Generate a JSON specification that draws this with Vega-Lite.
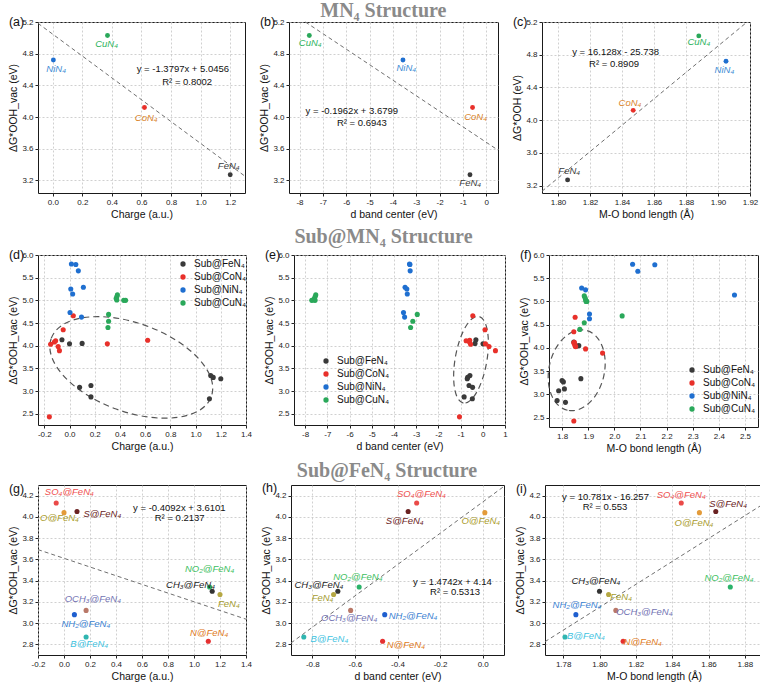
{
"$schema": "https://vega.github.io/schema/vega-lite/v6.json",
"padding": {"left": 8, "top": 1, "right": 2, "bottom": 0},
"background": "white",
"config": {
 "font": "Liberation Sans",
 "view": {"stroke": "#1a1a1a", "strokeWidth": 1},
 "axis": {"labelFontSize": 8, "labelColor": "#222", "titleFontSize": 10.5, "titleFontWeight": "normal", "titleColor": "#111", "tickSize": 3, "tickColor": "#222", "domain": false, "grid": true, "gridColor": "#c4c4c4", "gridDash": [2, 2], "gridWidth": 0.8, "labelPadding": 2, "titlePadding": 3, "labelFlush": false, "labelOverlap": false, "tickCount": 50},
 "legend": {"labelFontSize": 10, "labelColor": "#111", "symbolSize": 28, "symbolType": "circle", "rowPadding": 3, "labelOffset": 6, "padding": 0, "symbolStrokeWidth": 0, "title": null},
 "locale": {"number": {"decimal": ".", "thousands": ",", "grouping": [3], "currency": ["$", ""], "minus": "-"}}
},
"datasets": {
 "mn4": [
  {"m": "FeN₄", "charge": 1.2, "dband": -0.7, "mo": 1.806, "g": 3.27},
  {"m": "CoN₄", "charge": 0.62, "dband": -0.59, "mo": 1.847, "g": 4.12},
  {"m": "NiN₄", "charge": 0.004, "dband": -3.57, "mo": 1.905, "g": 4.72},
  {"m": "CuN₄", "charge": 0.37, "dband": -7.58, "mo": 1.888, "g": 5.03}
 ],
 "sub": [
  {"s": "Sub@FeN₄", "charge": -0.06, "dband": -0.31, "mo": 1.845, "g": 4.13},
  {"s": "Sub@FeN₄", "charge": 0.1, "dband": -0.35, "mo": 1.864, "g": 4.05},
  {"s": "Sub@FeN₄", "charge": 0.0, "dband": 0.01, "mo": 1.855, "g": 4.04},
  {"s": "Sub@FeN₄", "charge": 1.12, "dband": -0.58, "mo": 1.872, "g": 3.34},
  {"s": "Sub@FeN₄", "charge": 1.14, "dband": -0.68, "mo": 1.8, "g": 3.3},
  {"s": "Sub@FeN₄", "charge": 1.2, "dband": -0.7, "mo": 1.805, "g": 3.27},
  {"s": "Sub@FeN₄", "charge": 0.17, "dband": -0.62, "mo": 1.809, "g": 3.12},
  {"s": "Sub@FeN₄", "charge": 0.08, "dband": -0.46, "mo": 1.787, "g": 3.08},
  {"s": "Sub@FeN₄", "charge": 0.17, "dband": -0.84, "mo": 1.781, "g": 2.87},
  {"s": "Sub@FeN₄", "charge": 1.11, "dband": -0.47, "mo": 1.813, "g": 2.83},
  {"s": "Sub@CoN₄", "charge": 0.03, "dband": -0.45, "mo": 1.85, "g": 4.66},
  {"s": "Sub@CoN₄", "charge": -0.05, "dband": 0.1, "mo": 1.845, "g": 4.35},
  {"s": "Sub@CoN₄", "charge": 0.62, "dband": -0.59, "mo": 1.847, "g": 4.12},
  {"s": "Sub@CoN₄", "charge": -0.11, "dband": -0.75, "mo": 1.845, "g": 4.11},
  {"s": "Sub@CoN₄", "charge": -0.12, "dband": -0.6, "mo": 1.848, "g": 4.08},
  {"s": "Sub@CoN₄", "charge": 0.3, "dband": 0.12, "mo": 1.85, "g": 4.04},
  {"s": "Sub@CoN₄", "charge": -0.15, "dband": -0.55, "mo": 1.852, "g": 4.03},
  {"s": "Sub@CoN₄", "charge": -0.09, "dband": 0.28, "mo": 1.89, "g": 3.98},
  {"s": "Sub@CoN₄", "charge": -0.08, "dband": 0.57, "mo": 1.955, "g": 3.89},
  {"s": "Sub@CoN₄", "charge": -0.16, "dband": -1.05, "mo": 1.845, "g": 2.43},
  {"s": "Sub@NiN₄", "charge": 0.015, "dband": -3.3, "mo": 2.07, "g": 5.8},
  {"s": "Sub@NiN₄", "charge": 0.05, "dband": -3.28, "mo": 2.155, "g": 5.79},
  {"s": "Sub@NiN₄", "charge": 0.07, "dband": -3.27, "mo": 2.09, "g": 5.65},
  {"s": "Sub@NiN₄", "charge": 0.11, "dband": -3.5, "mo": 1.875, "g": 5.29},
  {"s": "Sub@NiN₄", "charge": 0.01, "dband": -3.42, "mo": 1.89, "g": 5.25},
  {"s": "Sub@NiN₄", "charge": 0.025, "dband": -3.4, "mo": 2.46, "g": 5.14},
  {"s": "Sub@NiN₄", "charge": 0.004, "dband": -3.57, "mo": 1.905, "g": 4.73},
  {"s": "Sub@NiN₄", "charge": 0.095, "dband": -3.52, "mo": 1.905, "g": 4.63},
  {"s": "Sub@CuN₄", "charge": 0.38, "dband": -7.52, "mo": 1.885, "g": 5.12},
  {"s": "Sub@CuN₄", "charge": 0.375, "dband": -7.55, "mo": 1.888, "g": 5.08},
  {"s": "Sub@CuN₄", "charge": 0.37, "dband": -7.58, "mo": 1.89, "g": 5.04},
  {"s": "Sub@CuN₄", "charge": 0.375, "dband": -7.62, "mo": 1.893, "g": 5.01},
  {"s": "Sub@CuN₄", "charge": 0.43, "dband": -7.7, "mo": 1.895, "g": 5.0},
  {"s": "Sub@CuN₄", "charge": 0.445, "dband": -7.55, "mo": 1.892, "g": 5.0},
  {"s": "Sub@CuN₄", "charge": 0.31, "dband": -2.95, "mo": 2.03, "g": 4.69},
  {"s": "Sub@CuN₄", "charge": 0.31, "dband": -3.15, "mo": 1.885, "g": 4.54},
  {"s": "Sub@CuN₄", "charge": 0.305, "dband": -3.25, "mo": 1.868, "g": 4.4}
 ],
 "fe": [
  {"k": "SO4", "charge": -0.06, "dband": -0.31, "mo": 1.845, "g": 4.13},
  {"k": "S", "charge": 0.1, "dband": -0.35, "mo": 1.864, "g": 4.05},
  {"k": "O", "charge": 0.0, "dband": 0.01, "mo": 1.855, "g": 4.04},
  {"k": "NO2", "charge": 1.12, "dband": -0.58, "mo": 1.872, "g": 3.34},
  {"k": "CH3", "charge": 1.14, "dband": -0.68, "mo": 1.8, "g": 3.3},
  {"k": "Fe", "charge": 1.2, "dband": -0.7, "mo": 1.805, "g": 3.27},
  {"k": "OCH3", "charge": 0.17, "dband": -0.62, "mo": 1.809, "g": 3.12},
  {"k": "NH2", "charge": 0.08, "dband": -0.46, "mo": 1.787, "g": 3.08},
  {"k": "B", "charge": 0.17, "dband": -0.84, "mo": 1.781, "g": 2.87},
  {"k": "N", "charge": 1.11, "dband": -0.47, "mo": 1.813, "g": 2.83}
 ],
 "fit": [
  {"p": "a", "x": -0.1, "y": 5.1836}, {"p": "a", "x": 1.3, "y": 3.252},
  {"p": "b", "x": -7.748, "y": 5.2}, {"p": "b", "x": 0.5, "y": 3.5818},
  {"p": "c", "x": 1.79, "y": 3.1311}, {"p": "c", "x": 1.9182, "y": 5.2},
  {"p": "g", "x": -0.2, "y": 3.6919}, {"p": "g", "x": 1.4, "y": 3.0372},
  {"p": "h", "x": -0.9, "y": 2.8132}, {"p": "h", "x": 0.1, "y": 4.2874},
  {"p": "i", "x": 1.77, "y": 2.8254}, {"p": "i", "x": 1.89, "y": 4.1191}
 ],
 "eq": [
  {"p": "a", "x": 0.88, "y": 4.61, "t": "y = -1.3797x + 5.0456"}, {"p": "a", "x": 0.909, "y": 4.44, "t": "R² = 0.8002"},
  {"p": "b", "x": -5.76, "y": 4.075, "t": "y = -0.1962x + 3.6799"}, {"p": "b", "x": -5.33, "y": 3.93, "t": "R² = 0.6943"},
  {"p": "c", "x": 1.836, "y": 4.837, "t": "y = 16.128x - 25.738"}, {"p": "c", "x": 1.835, "y": 4.69, "t": "R² = 0.8909"},
  {"p": "g", "x": 0.887, "y": 4.08, "t": "y = -0.4092x + 3.6101"}, {"p": "g", "x": 0.89, "y": 3.985, "t": "R² = 0.2137"},
  {"p": "h", "x": -0.142, "y": 3.39, "t": "y = 1.4742x + 4.14"}, {"p": "h", "x": -0.13, "y": 3.29, "t": "R² = 0.5313"},
  {"p": "i", "x": 1.8033, "y": 4.19, "t": "y = 10.781x - 16.257"}, {"p": "i", "x": 1.803, "y": 4.09, "t": "R² = 0.553"}
 ],
 "lab": [
  {"p": "a", "k": "CuN4", "t": "CuN₄", "x": 0.364, "y": 4.92},
  {"p": "a", "k": "NiN4", "t": "NiN₄", "x": 0.023, "y": 4.61},
  {"p": "a", "k": "CoN4", "t": "CoN₄", "x": 0.632, "y": 3.99},
  {"p": "a", "k": "FeN4", "t": "FeN₄", "x": 1.19, "y": 3.38},
  {"p": "b", "k": "CuN4", "t": "CuN₄", "x": -7.54, "y": 4.93},
  {"p": "b", "k": "NiN4", "t": "NiN₄", "x": -3.43, "y": 4.62},
  {"p": "b", "k": "CoN4", "t": "CoN₄", "x": -0.46, "y": 4.0},
  {"p": "b", "k": "FeN4", "t": "FeN₄", "x": -0.69, "y": 3.17},
  {"p": "c", "k": "CuN4", "t": "CuN₄", "x": 1.888, "y": 4.95},
  {"p": "c", "k": "NiN4", "t": "NiN₄", "x": 1.904, "y": 4.61},
  {"p": "c", "k": "CoN4", "t": "CoN₄", "x": 1.845, "y": 4.21},
  {"p": "c", "k": "FeN4", "t": "FeN₄", "x": 1.807, "y": 3.38},
  {"p": "g", "k": "SO4", "t": "SO₄@FeN₄", "x": 0.041, "y": 4.23},
  {"p": "g", "k": "O", "t": "O@FeN₄", "x": -0.035, "y": 3.99},
  {"p": "g", "k": "S", "t": "S@FeN₄", "x": 0.295, "y": 4.03},
  {"p": "g", "k": "NO2", "t": "NO₂@FeN₄", "x": 1.12, "y": 3.51},
  {"p": "g", "k": "CH3", "t": "CH₃@FeN₄", "x": 0.973, "y": 3.356},
  {"p": "g", "k": "Fe", "t": "FeN₄", "x": 1.268, "y": 3.18},
  {"p": "g", "k": "OCH3", "t": "OCH₃@FeN₄", "x": 0.222, "y": 3.23},
  {"p": "g", "k": "NH2", "t": "NH₂@FeN₄", "x": 0.168, "y": 2.99},
  {"p": "g", "k": "B", "t": "B@FeN₄", "x": 0.194, "y": 2.8},
  {"p": "g", "k": "N", "t": "N@FeN₄", "x": 1.116, "y": 2.91},
  {"p": "h", "k": "SO4", "t": "SO₄@FeN₄", "x": -0.2875, "y": 4.22},
  {"p": "h", "k": "S", "t": "S@FeN₄", "x": -0.366, "y": 3.96},
  {"p": "h", "k": "O", "t": "O@FeN₄", "x": -0.009, "y": 3.96},
  {"p": "h", "k": "CH3", "t": "CH₃@FeN₄", "x": -0.769, "y": 3.36},
  {"p": "h", "k": "Fe", "t": "FeN₄", "x": -0.752, "y": 3.236},
  {"p": "h", "k": "NO2", "t": "NO₂@FeN₄", "x": -0.586, "y": 3.43},
  {"p": "h", "k": "OCH3", "t": "OCH₃@FeN₄", "x": -0.627, "y": 3.047},
  {"p": "h", "k": "NH2", "t": "NH₂@FeN₄", "x": -0.327, "y": 3.07},
  {"p": "h", "k": "B", "t": "B@FeN₄", "x": -0.72, "y": 2.85},
  {"p": "h", "k": "N", "t": "N@FeN₄", "x": -0.361, "y": 2.79},
  {"p": "i", "k": "SO4", "t": "SO₄@FeN₄", "x": 1.845, "y": 4.21},
  {"p": "i", "k": "S", "t": "S@FeN₄", "x": 1.8708, "y": 4.125},
  {"p": "i", "k": "O", "t": "O@FeN₄", "x": 1.852, "y": 3.943},
  {"p": "i", "k": "NO2", "t": "NO₂@FeN₄", "x": 1.8713, "y": 3.426},
  {"p": "i", "k": "CH3", "t": "CH₃@FeN₄", "x": 1.798, "y": 3.394},
  {"p": "i", "k": "Fe", "t": "FeN₄", "x": 1.8119, "y": 3.247},
  {"p": "i", "k": "OCH3", "t": "OCH₃@FeN₄", "x": 1.8247, "y": 3.106},
  {"p": "i", "k": "NH2", "t": "NH₂@FeN₄", "x": 1.7876, "y": 3.175},
  {"p": "i", "k": "B", "t": "B@FeN₄", "x": 1.7925, "y": 2.883},
  {"p": "i", "k": "N", "t": "N@FeN₄", "x": 1.8238, "y": 2.824}
 ],
 "ell": [
  {"p": "d", "x": 0.49, "y": 3.52},
  {"p": "e", "x": -0.53, "y": 3.69},
  {"p": "f", "x": 1.856, "y": 3.52}
 ]
},
"resolve": {"scale": {"color": "independent"}, "legend": {"color": "independent"}},
"spacing": 7,
"vconcat": [
 {
  "title": {"text": "MN₄ Structure", "anchor": "middle", "fontSize": 20, "font": "Liberation Serif", "fontWeight": "bold", "color": "#8a8a8a", "offset": -6},
  "spacing": 11,
  "resolve": {"scale": {"color": "independent"}, "legend": {"color": "independent"}},
  "hconcat": [
   {
    "width": 207, "height": 171,
    "title": {"text": "(a)", "anchor": "start", "frame": "bounds", "offset": -10, "fontSize": 12.5, "fontWeight": "normal", "color": "#111", "font": "Liberation Sans"},
    "resolve": {"scale": {"color": "independent"}},
    "layer": [
     {"data": {"name": "fit"}, "transform": [{"filter": "datum.p == 'a'"}],
      "mark": {"type": "line", "strokeDash": [4, 3], "color": "#707070", "strokeWidth": 1},
      "encoding": {
       "x": {"field": "x", "type": "quantitative", "title": "Charge (a.u.)", "scale": {"domain": [-0.1, 1.3], "nice": false, "zero": false}, "axis": {"values": [0, 0.2, 0.4, 0.6, 0.8, 1, 1.2], "format": ".1f", "tickCount": 50}},
       "y": {"field": "y", "type": "quantitative", "title": "ΔG*OOH_vac (eV)", "scale": {"domain": [3.04, 5.2], "nice": false, "zero": false}, "axis": {"values": [3.2, 3.6, 4, 4.4, 4.8, 5.2], "format": ".1f", "tickCount": 50}}}},
     {"data": {"name": "mn4"},
      "mark": {"type": "circle", "size": 24, "opacity": 1},
      "encoding": {
       "x": {"field": "charge", "type": "quantitative", "title": "Charge (a.u.)", "scale": {"domain": [-0.1, 1.3], "nice": false, "zero": false}},
       "y": {"field": "g", "type": "quantitative", "title": "ΔG*OOH_vac (eV)", "scale": {"domain": [3.04, 5.2], "nice": false, "zero": false}},
       "color": {"field": "m", "type": "nominal", "scale": {"domain": ["FeN₄", "CoN₄", "NiN₄", "CuN₄"], "range": ["#3a3a3a", "#e8302a", "#1f6fd0", "#2aa85a"]}, "legend": null}}},
     {"data": {"name": "lab"}, "transform": [{"filter": "datum.p == 'a'"}],
      "mark": {"type": "text", "fontSize": 9.5, "fontStyle": "italic", "baseline": "middle"},
      "encoding": {
       "x": {"field": "x", "type": "quantitative", "title": "Charge (a.u.)", "scale": {"domain": [-0.1, 1.3], "nice": false, "zero": false}},
       "y": {"field": "y", "type": "quantitative", "title": "ΔG*OOH_vac (eV)", "scale": {"domain": [3.04, 5.2], "nice": false, "zero": false}},
       "text": {"field": "t"},
       "color": {"field": "k", "type": "nominal", "scale": {"domain": ["FeN4", "CoN4", "NiN4", "CuN4"], "range": ["#3a3a3a", "#d9832a", "#3d8bd4", "#2db35d"]}, "legend": null}}},
     {"data": {"name": "eq"}, "transform": [{"filter": "datum.p == 'a'"}],
      "mark": {"type": "text", "fontSize": 9.5, "color": "#111", "baseline": "middle"},
      "encoding": {
       "x": {"field": "x", "type": "quantitative", "title": "Charge (a.u.)", "scale": {"domain": [-0.1, 1.3], "nice": false, "zero": false}},
       "y": {"field": "y", "type": "quantitative", "title": "ΔG*OOH_vac (eV)", "scale": {"domain": [3.04, 5.2], "nice": false, "zero": false}},
       "text": {"field": "t"}}}
    ]
   },
   {
    "width": 209, "height": 171,
    "title": {"text": "(b)", "anchor": "start", "frame": "bounds", "offset": -10, "fontSize": 12.5, "fontWeight": "normal", "color": "#111", "font": "Liberation Sans"},
    "resolve": {"scale": {"color": "independent"}},
    "layer": [
     {"data": {"name": "fit"}, "transform": [{"filter": "datum.p == 'b'"}],
      "mark": {"type": "line", "strokeDash": [4, 3], "color": "#707070", "strokeWidth": 1},
      "encoding": {
       "x": {"field": "x", "type": "quantitative", "title": "d band center (eV)", "scale": {"domain": [-8.45, 0.5], "nice": false, "zero": false}, "axis": {"values": [-8, -7, -6, -5, -4, -3, -2, -1, 0], "format": "d", "tickCount": 50}},
       "y": {"field": "y", "type": "quantitative", "title": "ΔG*OOH_vac (eV)", "scale": {"domain": [3.04, 5.2], "nice": false, "zero": false}, "axis": {"values": [3.2, 3.6, 4, 4.4, 4.8, 5.2], "format": ".1f", "tickCount": 50}}}},
     {"data": {"name": "mn4"},
      "mark": {"type": "circle", "size": 24, "opacity": 1},
      "encoding": {
       "x": {"field": "dband", "type": "quantitative", "title": "d band center (eV)", "scale": {"domain": [-8.45, 0.5], "nice": false, "zero": false}},
       "y": {"field": "g", "type": "quantitative", "title": "ΔG*OOH_vac (eV)", "scale": {"domain": [3.04, 5.2], "nice": false, "zero": false}},
       "color": {"field": "m", "type": "nominal", "scale": {"domain": ["FeN₄", "CoN₄", "NiN₄", "CuN₄"], "range": ["#3a3a3a", "#e8302a", "#1f6fd0", "#2aa85a"]}, "legend": null}}},
     {"data": {"name": "lab"}, "transform": [{"filter": "datum.p == 'b'"}],
      "mark": {"type": "text", "fontSize": 9.5, "fontStyle": "italic", "baseline": "middle"},
      "encoding": {
       "x": {"field": "x", "type": "quantitative", "title": "d band center (eV)", "scale": {"domain": [-8.45, 0.5], "nice": false, "zero": false}},
       "y": {"field": "y", "type": "quantitative", "title": "ΔG*OOH_vac (eV)", "scale": {"domain": [3.04, 5.2], "nice": false, "zero": false}},
       "text": {"field": "t"},
       "color": {"field": "k", "type": "nominal", "scale": {"domain": ["FeN4", "CoN4", "NiN4", "CuN4"], "range": ["#3a3a3a", "#d9832a", "#3d8bd4", "#2db35d"]}, "legend": null}}},
     {"data": {"name": "eq"}, "transform": [{"filter": "datum.p == 'b'"}],
      "mark": {"type": "text", "fontSize": 9.5, "color": "#111", "baseline": "middle"},
      "encoding": {
       "x": {"field": "x", "type": "quantitative", "title": "d band center (eV)", "scale": {"domain": [-8.45, 0.5], "nice": false, "zero": false}},
       "y": {"field": "y", "type": "quantitative", "title": "ΔG*OOH_vac (eV)", "scale": {"domain": [3.04, 5.2], "nice": false, "zero": false}},
       "text": {"field": "t"}}}
    ]
   },
   {
    "width": 208, "height": 171,
    "title": {"text": "(c)", "anchor": "start", "frame": "bounds", "offset": -10, "fontSize": 12.5, "fontWeight": "normal", "color": "#111", "font": "Liberation Sans"},
    "resolve": {"scale": {"color": "independent"}},
    "layer": [
     {"data": {"name": "fit"}, "transform": [{"filter": "datum.p == 'c'"}],
      "mark": {"type": "line", "strokeDash": [4, 3], "color": "#707070", "strokeWidth": 1},
      "encoding": {
       "x": {"field": "x", "type": "quantitative", "title": "M-O bond length (Å)", "scale": {"domain": [1.79, 1.92], "nice": false, "zero": false}, "axis": {"values": [1.8, 1.82, 1.84, 1.86, 1.88, 1.9, 1.92], "format": ".2f", "tickCount": 50}},
       "y": {"field": "y", "type": "quantitative", "title": "ΔG*OOH (eV)", "scale": {"domain": [3.11, 5.2], "nice": false, "zero": false}, "axis": {"values": [3.2, 3.6, 4, 4.4, 4.8, 5.2], "format": ".1f", "tickCount": 50}}}},
     {"data": {"name": "mn4"},
      "mark": {"type": "circle", "size": 24, "opacity": 1},
      "encoding": {
       "x": {"field": "mo", "type": "quantitative", "title": "M-O bond length (Å)", "scale": {"domain": [1.79, 1.92], "nice": false, "zero": false}},
       "y": {"field": "g", "type": "quantitative", "title": "ΔG*OOH (eV)", "scale": {"domain": [3.11, 5.2], "nice": false, "zero": false}},
       "color": {"field": "m", "type": "nominal", "scale": {"domain": ["FeN₄", "CoN₄", "NiN₄", "CuN₄"], "range": ["#3a3a3a", "#e8302a", "#1f6fd0", "#2aa85a"]}, "legend": null}}},
     {"data": {"name": "lab"}, "transform": [{"filter": "datum.p == 'c'"}],
      "mark": {"type": "text", "fontSize": 9.5, "fontStyle": "italic", "baseline": "middle"},
      "encoding": {
       "x": {"field": "x", "type": "quantitative", "title": "M-O bond length (Å)", "scale": {"domain": [1.79, 1.92], "nice": false, "zero": false}},
       "y": {"field": "y", "type": "quantitative", "title": "ΔG*OOH (eV)", "scale": {"domain": [3.11, 5.2], "nice": false, "zero": false}},
       "text": {"field": "t"},
       "color": {"field": "k", "type": "nominal", "scale": {"domain": ["FeN4", "CoN4", "NiN4", "CuN4"], "range": ["#3a3a3a", "#d9832a", "#3d8bd4", "#2db35d"]}, "legend": null}}},
     {"data": {"name": "eq"}, "transform": [{"filter": "datum.p == 'c'"}],
      "mark": {"type": "text", "fontSize": 9.5, "color": "#111", "baseline": "middle"},
      "encoding": {
       "x": {"field": "x", "type": "quantitative", "title": "M-O bond length (Å)", "scale": {"domain": [1.79, 1.92], "nice": false, "zero": false}},
       "y": {"field": "y", "type": "quantitative", "title": "ΔG*OOH (eV)", "scale": {"domain": [3.11, 5.2], "nice": false, "zero": false}},
       "text": {"field": "t"}}}
    ]
   }
  ]
 },
 {
  "title": {"text": "Sub@MN₄ Structure", "anchor": "middle", "fontSize": 20, "font": "Liberation Serif", "fontWeight": "bold", "color": "#8a8a8a", "offset": 1},
  "spacing": 11,
  "resolve": {"scale": {"color": "independent"}, "legend": {"color": "independent"}},
  "hconcat": [
   {
    "width": 208, "height": 170,
    "title": {"text": "(d)", "anchor": "start", "frame": "bounds", "offset": -10, "fontSize": 12.5, "fontWeight": "normal", "color": "#111", "font": "Liberation Sans"},
    "layer": [
     {"data": {"name": "ell"}, "transform": [{"filter": "datum.p == 'd'"}],
      "mark": {"type": "point", "shape": "M -1 0 A 1 0.52 0 1 1 1 0 A 1 0.52 0 1 1 -1 0 Z", "size": 29000, "angle": 20, "filled": false, "stroke": "#555", "strokeWidth": 1.2, "strokeDash": [6, 4], "opacity": 1},
      "encoding": {
       "x": {"field": "x", "type": "quantitative", "title": "Charge (a.u.)", "scale": {"domain": [-0.25, 1.4], "nice": false, "zero": false}, "axis": {"values": [-0.2, 0, 0.2, 0.4, 0.6, 0.8, 1, 1.2, 1.4], "format": ".1f", "tickCount": 50}},
       "y": {"field": "y", "type": "quantitative", "title": "ΔG*OOH_vac (eV)", "scale": {"domain": [2.25, 6], "nice": false, "zero": false}, "axis": {"values": [2.5, 3, 3.5, 4, 4.5, 5, 5.5, 6], "format": ".1f", "tickCount": 50}}}},
     {"data": {"name": "sub"},
      "mark": {"type": "circle", "size": 26, "opacity": 1},
      "encoding": {
       "x": {"field": "charge", "type": "quantitative", "title": "Charge (a.u.)", "scale": {"domain": [-0.25, 1.4], "nice": false, "zero": false}},
       "y": {"field": "g", "type": "quantitative", "title": "ΔG*OOH_vac (eV)", "scale": {"domain": [2.25, 6], "nice": false, "zero": false}},
       "color": {"field": "s", "type": "nominal", "scale": {"domain": ["Sub@FeN₄", "Sub@CoN₄", "Sub@NiN₄", "Sub@CuN₄"], "range": ["#3a3a3a", "#e8302a", "#1f6fd0", "#2aa85a"]}, "legend": {"orient": "none", "legendX": 140, "legendY": 4}}}}
    ]
   },
   {
    "width": 211, "height": 170,
    "title": {"text": "(e)", "anchor": "start", "frame": "bounds", "offset": -10, "fontSize": 12.5, "fontWeight": "normal", "color": "#111", "font": "Liberation Sans"},
    "layer": [
     {"data": {"name": "ell"}, "transform": [{"filter": "datum.p == 'e'"}],
      "mark": {"type": "point", "shape": "M -1 0 A 1 0.36 0 1 1 1 0 A 1 0.36 0 1 1 -1 0 Z", "size": 7744, "angle": -80, "filled": false, "stroke": "#555", "strokeWidth": 1.2, "strokeDash": [6, 4], "opacity": 1},
      "encoding": {
       "x": {"field": "x", "type": "quantitative", "title": "d band center (eV)", "scale": {"domain": [-8.5, 1], "nice": false, "zero": false}, "axis": {"values": [-8, -7, -6, -5, -4, -3, -2, -1, 0, 1], "format": "d", "tickCount": 50}},
       "y": {"field": "y", "type": "quantitative", "title": "ΔG*OOH_vac (eV)", "scale": {"domain": [2.25, 6], "nice": false, "zero": false}, "axis": {"values": [2.5, 3, 3.5, 4, 4.5, 5, 5.5, 6], "format": ".1f", "tickCount": 50}}}},
     {"data": {"name": "sub"},
      "mark": {"type": "circle", "size": 26, "opacity": 1},
      "encoding": {
       "x": {"field": "dband", "type": "quantitative", "title": "d band center (eV)", "scale": {"domain": [-8.5, 1], "nice": false, "zero": false}},
       "y": {"field": "g", "type": "quantitative", "title": "ΔG*OOH_vac (eV)", "scale": {"domain": [2.25, 6], "nice": false, "zero": false}},
       "color": {"field": "s", "type": "nominal", "scale": {"domain": ["Sub@FeN₄", "Sub@CoN₄", "Sub@NiN₄", "Sub@CuN₄"], "range": ["#3a3a3a", "#e8302a", "#1f6fd0", "#2aa85a"]}, "legend": {"orient": "none", "legendX": 27, "legendY": 101}}}}
    ]
   },
   {
    "width": 209, "height": 172,
    "title": {"text": "(f)", "anchor": "start", "frame": "bounds", "offset": -10, "fontSize": 12.5, "fontWeight": "normal", "color": "#111", "font": "Liberation Sans"},
    "layer": [
     {"data": {"name": "ell"}, "transform": [{"filter": "datum.p == 'f'"}],
      "mark": {"type": "point", "shape": "M -1 0 A 1 0.675 0 1 1 1 0 A 1 0.675 0 1 1 -1 0 Z", "size": 6724, "angle": -77, "filled": false, "stroke": "#555", "strokeWidth": 1.2, "strokeDash": [6, 4], "opacity": 1},
      "encoding": {
       "x": {"field": "x", "type": "quantitative", "title": "M-O bond length (Å)", "scale": {"domain": [1.75, 2.55], "nice": false, "zero": false}, "axis": {"values": [1.8, 1.9, 2, 2.1, 2.2, 2.3, 2.4, 2.5], "format": ".1f", "tickCount": 50}},
       "y": {"field": "y", "type": "quantitative", "title": "ΔG*OOH_vac (eV)", "scale": {"domain": [2.3, 6], "nice": false, "zero": false}, "axis": {"values": [2.5, 3, 3.5, 4, 4.5, 5, 5.5, 6], "format": ".1f", "tickCount": 50}}}},
     {"data": {"name": "sub"},
      "mark": {"type": "circle", "size": 26, "opacity": 1},
      "encoding": {
       "x": {"field": "mo", "type": "quantitative", "title": "M-O bond length (Å)", "scale": {"domain": [1.75, 2.55], "nice": false, "zero": false}},
       "y": {"field": "g", "type": "quantitative", "title": "ΔG*OOH_vac (eV)", "scale": {"domain": [2.3, 6], "nice": false, "zero": false}},
       "color": {"field": "s", "type": "nominal", "scale": {"domain": ["Sub@FeN₄", "Sub@CoN₄", "Sub@NiN₄", "Sub@CuN₄"], "range": ["#3a3a3a", "#e8302a", "#1f6fd0", "#2aa85a"]}, "legend": {"orient": "none", "legendX": 138, "legendY": 110}}}}
    ]
   }
  ]
 },
 {
  "title": {"text": "Sub@FeN₄ Structure", "anchor": "middle", "fontSize": 20, "font": "Liberation Serif", "fontWeight": "bold", "color": "#8a8a8a", "offset": 0},
  "spacing": 8,
  "resolve": {"scale": {"color": "independent"}, "legend": {"color": "independent"}},
  "hconcat": [
   {
    "width": 208, "height": 170,
    "title": {"text": "(g)", "anchor": "start", "frame": "bounds", "offset": -10, "fontSize": 12.5, "fontWeight": "normal", "color": "#111", "font": "Liberation Sans"},
    "resolve": {"scale": {"color": "independent"}},
    "layer": [
     {"data": {"name": "fit"}, "transform": [{"filter": "datum.p == 'g'"}],
      "mark": {"type": "line", "strokeDash": [4, 3], "color": "#707070", "strokeWidth": 1},
      "encoding": {
       "x": {"field": "x", "type": "quantitative", "title": "Charge (a.u.)", "scale": {"domain": [-0.2, 1.4], "nice": false, "zero": false}, "axis": {"values": [-0.2, 0, 0.2, 0.4, 0.6, 0.8, 1, 1.2, 1.4], "format": ".1f", "tickCount": 50}},
       "y": {"field": "y", "type": "quantitative", "title": "ΔG*OOH_vac (eV)", "scale": {"domain": [2.7, 4.3], "nice": false, "zero": false}, "axis": {"values": [2.8, 3, 3.2, 3.4, 3.6, 3.8, 4, 4.2], "format": ".1f", "tickCount": 50}}}},
     {"data": {"name": "fe"},
      "mark": {"type": "circle", "size": 26, "opacity": 1},
      "encoding": {
       "x": {"field": "charge", "type": "quantitative", "title": "Charge (a.u.)", "scale": {"domain": [-0.2, 1.4], "nice": false, "zero": false}},
       "y": {"field": "g", "type": "quantitative", "title": "ΔG*OOH_vac (eV)", "scale": {"domain": [2.7, 4.3], "nice": false, "zero": false}},
       "color": {"field": "k", "type": "nominal", "scale": {"domain": ["SO4", "S", "O", "NO2", "CH3", "Fe", "OCH3", "NH2", "B", "N"], "range": ["#ea4a48", "#6a2222", "#e39b3a", "#2bb36a", "#333333", "#b5a743", "#b97868", "#1f5fcf", "#2fb5b0", "#e53030"]}, "legend": null}}},
     {"data": {"name": "lab"}, "transform": [{"filter": "datum.p == 'g'"}],
      "mark": {"type": "text", "fontSize": 9.5, "fontStyle": "italic", "baseline": "middle"},
      "encoding": {
       "x": {"field": "x", "type": "quantitative", "title": "Charge (a.u.)", "scale": {"domain": [-0.2, 1.4], "nice": false, "zero": false}},
       "y": {"field": "y", "type": "quantitative", "title": "ΔG*OOH_vac (eV)", "scale": {"domain": [2.7, 4.3], "nice": false, "zero": false}},
       "text": {"field": "t"},
       "color": {"field": "k", "type": "nominal", "scale": {"domain": ["SO4", "S", "O", "NO2", "CH3", "Fe", "OCH3", "NH2", "B", "N"], "range": ["#ef4f4f", "#6a2222", "#aa9c2c", "#3cc060", "#222222", "#a59c2e", "#7373b3", "#3b82d2", "#3fc3df", "#e07a22"]}, "legend": null}}},
     {"data": {"name": "eq"}, "transform": [{"filter": "datum.p == 'g'"}],
      "mark": {"type": "text", "fontSize": 9.5, "color": "#111", "baseline": "middle"},
      "encoding": {
       "x": {"field": "x", "type": "quantitative", "title": "Charge (a.u.)", "scale": {"domain": [-0.2, 1.4], "nice": false, "zero": false}},
       "y": {"field": "y", "type": "quantitative", "title": "ΔG*OOH_vac (eV)", "scale": {"domain": [2.7, 4.3], "nice": false, "zero": false}},
       "text": {"field": "t"}}}
    ]
   },
   {
    "width": 213, "height": 170,
    "title": {"text": "(h)", "anchor": "start", "frame": "bounds", "offset": -10, "fontSize": 12.5, "fontWeight": "normal", "color": "#111", "font": "Liberation Sans"},
    "resolve": {"scale": {"color": "independent"}},
    "layer": [
     {"data": {"name": "fit"}, "transform": [{"filter": "datum.p == 'h'"}],
      "mark": {"type": "line", "strokeDash": [4, 3], "color": "#707070", "strokeWidth": 1},
      "encoding": {
       "x": {"field": "x", "type": "quantitative", "title": "d band center (eV)", "scale": {"domain": [-0.9, 0.1], "nice": false, "zero": false}, "axis": {"values": [-0.8, -0.6, -0.4, -0.2, 0], "format": ".1f", "tickCount": 50}},
       "y": {"field": "y", "type": "quantitative", "title": "ΔG*OOH_vac (eV)", "scale": {"domain": [2.7, 4.3], "nice": false, "zero": false}, "axis": {"values": [2.8, 3, 3.2, 3.4, 3.6, 3.8, 4, 4.2], "format": ".1f", "tickCount": 50}}}},
     {"data": {"name": "fe"},
      "mark": {"type": "circle", "size": 26, "opacity": 1},
      "encoding": {
       "x": {"field": "dband", "type": "quantitative", "title": "d band center (eV)", "scale": {"domain": [-0.9, 0.1], "nice": false, "zero": false}},
       "y": {"field": "g", "type": "quantitative", "title": "ΔG*OOH_vac (eV)", "scale": {"domain": [2.7, 4.3], "nice": false, "zero": false}},
       "color": {"field": "k", "type": "nominal", "scale": {"domain": ["SO4", "S", "O", "NO2", "CH3", "Fe", "OCH3", "NH2", "B", "N"], "range": ["#ea4a48", "#6a2222", "#e39b3a", "#2bb36a", "#333333", "#b5a743", "#b97868", "#1f5fcf", "#2fb5b0", "#e53030"]}, "legend": null}}},
     {"data": {"name": "lab"}, "transform": [{"filter": "datum.p == 'h'"}],
      "mark": {"type": "text", "fontSize": 9.5, "fontStyle": "italic", "baseline": "middle"},
      "encoding": {
       "x": {"field": "x", "type": "quantitative", "title": "d band center (eV)", "scale": {"domain": [-0.9, 0.1], "nice": false, "zero": false}},
       "y": {"field": "y", "type": "quantitative", "title": "ΔG*OOH_vac (eV)", "scale": {"domain": [2.7, 4.3], "nice": false, "zero": false}},
       "text": {"field": "t"},
       "color": {"field": "k", "type": "nominal", "scale": {"domain": ["SO4", "S", "O", "NO2", "CH3", "Fe", "OCH3", "NH2", "B", "N"], "range": ["#ef4f4f", "#6a2222", "#aa9c2c", "#3cc060", "#222222", "#a59c2e", "#7373b3", "#3b82d2", "#3fc3df", "#e07a22"]}, "legend": null}}},
     {"data": {"name": "eq"}, "transform": [{"filter": "datum.p == 'h'"}],
      "mark": {"type": "text", "fontSize": 9.5, "color": "#111", "baseline": "middle"},
      "encoding": {
       "x": {"field": "x", "type": "quantitative", "title": "d band center (eV)", "scale": {"domain": [-0.9, 0.1], "nice": false, "zero": false}},
       "y": {"field": "y", "type": "quantitative", "title": "ΔG*OOH_vac (eV)", "scale": {"domain": [2.7, 4.3], "nice": false, "zero": false}},
       "text": {"field": "t"}}}
    ]
   },
   {
    "width": 218, "height": 170,
    "title": {"text": "(i)", "anchor": "start", "frame": "bounds", "offset": -10, "fontSize": 12.5, "fontWeight": "normal", "color": "#111", "font": "Liberation Sans"},
    "resolve": {"scale": {"color": "independent"}},
    "layer": [
     {"data": {"name": "fit"}, "transform": [{"filter": "datum.p == 'i'"}],
      "mark": {"type": "line", "strokeDash": [4, 3], "color": "#707070", "strokeWidth": 1},
      "encoding": {
       "x": {"field": "x", "type": "quantitative", "title": "M-O bond length (Å)", "scale": {"domain": [1.77, 1.89], "nice": false, "zero": false}, "axis": {"values": [1.78, 1.8, 1.82, 1.84, 1.86, 1.88], "format": ".2f", "tickCount": 50}},
       "y": {"field": "y", "type": "quantitative", "title": "ΔG*OOH_vac (eV)", "scale": {"domain": [2.7, 4.3], "nice": false, "zero": false}, "axis": {"values": [2.8, 3, 3.2, 3.4, 3.6, 3.8, 4, 4.2], "format": ".1f", "tickCount": 50}}}},
     {"data": {"name": "fe"},
      "mark": {"type": "circle", "size": 26, "opacity": 1},
      "encoding": {
       "x": {"field": "mo", "type": "quantitative", "title": "M-O bond length (Å)", "scale": {"domain": [1.77, 1.89], "nice": false, "zero": false}},
       "y": {"field": "g", "type": "quantitative", "title": "ΔG*OOH_vac (eV)", "scale": {"domain": [2.7, 4.3], "nice": false, "zero": false}},
       "color": {"field": "k", "type": "nominal", "scale": {"domain": ["SO4", "S", "O", "NO2", "CH3", "Fe", "OCH3", "NH2", "B", "N"], "range": ["#ea4a48", "#6a2222", "#e39b3a", "#2bb36a", "#333333", "#b5a743", "#b97868", "#1f5fcf", "#2fb5b0", "#e53030"]}, "legend": null}}},
     {"data": {"name": "lab"}, "transform": [{"filter": "datum.p == 'i'"}],
      "mark": {"type": "text", "fontSize": 9.5, "fontStyle": "italic", "baseline": "middle"},
      "encoding": {
       "x": {"field": "x", "type": "quantitative", "title": "M-O bond length (Å)", "scale": {"domain": [1.77, 1.89], "nice": false, "zero": false}},
       "y": {"field": "y", "type": "quantitative", "title": "ΔG*OOH_vac (eV)", "scale": {"domain": [2.7, 4.3], "nice": false, "zero": false}},
       "text": {"field": "t"},
       "color": {"field": "k", "type": "nominal", "scale": {"domain": ["SO4", "S", "O", "NO2", "CH3", "Fe", "OCH3", "NH2", "B", "N"], "range": ["#ef4f4f", "#6a2222", "#aa9c2c", "#3cc060", "#222222", "#a59c2e", "#7373b3", "#3b82d2", "#3fc3df", "#e07a22"]}, "legend": null}}},
     {"data": {"name": "eq"}, "transform": [{"filter": "datum.p == 'i'"}],
      "mark": {"type": "text", "fontSize": 9.5, "color": "#111", "baseline": "middle"},
      "encoding": {
       "x": {"field": "x", "type": "quantitative", "title": "M-O bond length (Å)", "scale": {"domain": [1.77, 1.89], "nice": false, "zero": false}},
       "y": {"field": "y", "type": "quantitative", "title": "ΔG*OOH_vac (eV)", "scale": {"domain": [2.7, 4.3], "nice": false, "zero": false}},
       "text": {"field": "t"}}}
    ]
   }
  ]
 }
]
}
